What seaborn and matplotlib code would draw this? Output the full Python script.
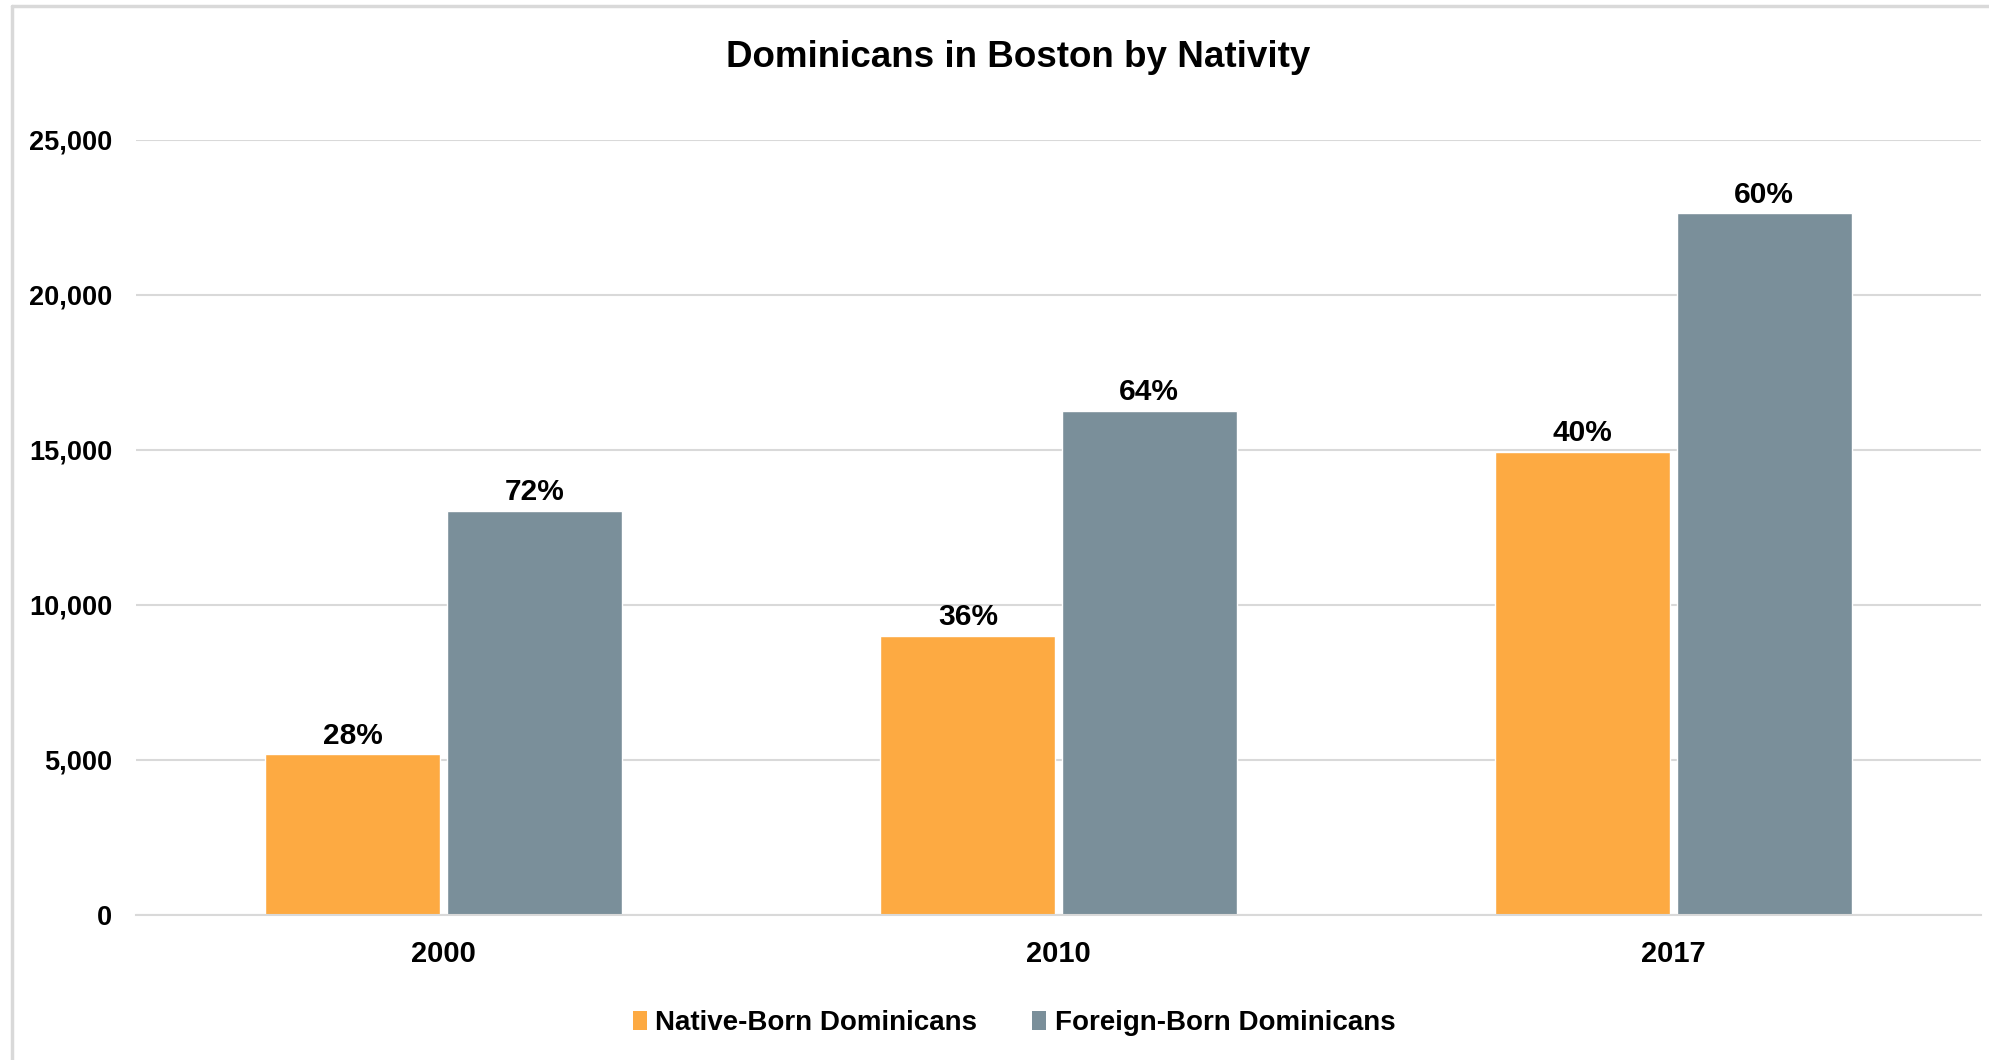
import matplotlib

matplotlib.use("Agg")
import matplotlib.pyplot as plt
import matplotlib.ticker as mticker
from matplotlib.lines import Line2D
from matplotlib.patches import Rectangle
import pandas as pd
import seaborn as sns

# values
years = ["2000", "2010", "2017"]
native_born = [5180, 9010, 14930]
foreign_born = [13030, 16250, 22630]
native_pct = ["28%", "36%", "40%"]
foreign_pct = ["72%", "64%", "60%"]
series = ["Native-Born Dominicans", "Foreign-Born Dominicans"]
colors = ["#FDAA42", "#7A8F9A"]

df = pd.DataFrame({
    "year": years * 2,
    "group": [series[0]] * len(years) + [series[1]] * len(years),
    "count": native_born + foreign_born,
})

sns.set_theme(style="white")
fonts = ["Liberation Sans Narrow", "Liberation Sans", "DejaVu Sans"]
plt.rcParams["font.family"] = fonts
plt.rcParams["text.color"] = "black"
plt.rcParams["xtick.color"] = "black"
plt.rcParams["ytick.color"] = "black"

W, H = 1989, 1060
fig = plt.figure(figsize=(W / 100, H / 100), dpi=100)
ax = fig.add_axes([136 / W, 1 - 915 / H, (1981 - 136) / W, (915 - 140) / H])

sns.barplot(
    data=df, x="year", y="count", hue="group", hue_order=series,
    palette=colors, width=0.59, gap=0.035, saturation=1,
    legend=False, ax=ax,
)

for cont, labels in zip(ax.containers, [native_pct, foreign_pct]):
    ax.bar_label(cont, labels=labels, padding=3.5, fontsize=21.5,
                 fontweight="bold", color="black")

ax.set_ylim(0, 25000)
ax.set_xlim(-0.5, 2.5)
ax.set_yticks(range(0, 25001, 5000))
ax.yaxis.set_major_formatter(mticker.StrMethodFormatter("{x:,.0f}"))
ax.yaxis.grid(True, color="#d9d9d9", linewidth=1.5)
ax.set_axisbelow(True)
for s in ["top", "right", "left"]:
    ax.spines[s].set_visible(False)
ax.spines["bottom"].set_color("#d9d9d9")
ax.spines["bottom"].set_linewidth(1.5)
ax.tick_params(axis="both", length=0)
ax.tick_params(axis="y", pad=17)
ax.tick_params(axis="x", pad=18)
for lbl in ax.get_yticklabels():
    lbl.set_fontsize(19.5)
    lbl.set_fontweight("bold")
for lbl in ax.get_xticklabels():
    lbl.set_fontsize(21)
    lbl.set_fontweight("bold")
ax.set_xlabel("")
ax.set_ylabel("")

fig.text(1018 / W, 1 - 67 / H, "Dominicans in Boston by Nativity",
         ha="center", va="baseline", fontsize=26.5, fontweight="bold")

handles = [Rectangle((0, 0), 1, 1, facecolor=c, edgecolor="none") for c in colors]
fig.legend(handles, series, loc="center", bbox_to_anchor=(1014 / W, 1 - 1023 / H),
           ncol=2, frameon=False, prop={"size": 20, "weight": "bold"},
           handlelength=0.5, handleheight=0.7, handletextpad=0.3,
           columnspacing=2.0)

# chart-area border: only top and left edges are visible in the reference
fig.add_artist(Line2D([12 / W, 1], [1 - 6 / H, 1 - 6 / H], transform=fig.transFigure,
                      color="#d9d9d9", linewidth=2.5))
fig.add_artist(Line2D([12 / W, 12 / W], [0, 1 - 6 / H], transform=fig.transFigure,
                      color="#d9d9d9", linewidth=2.5))

fig.savefig("out.png", dpi=100)
plt.close(fig)
